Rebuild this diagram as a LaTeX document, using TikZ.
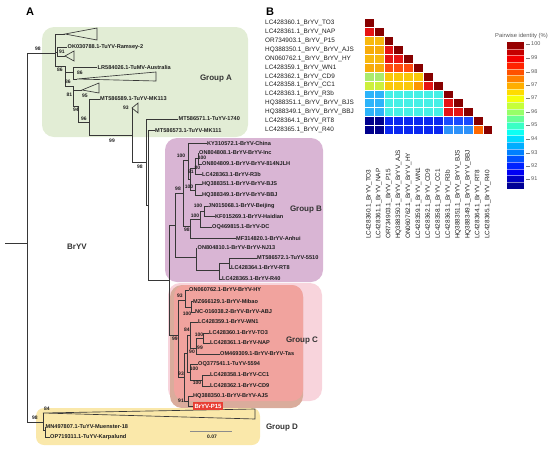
\documentclass[tikz,border=0pt]{standalone}
\usepackage{fontspec}
\setmainfont{Liberation Sans}
\definecolor{treec}{RGB}{55,55,55}
\definecolor{txtc}{RGB}{30,30,30}
\definecolor{grpc}{RGB}{50,50,50}
\definecolor{boxA}{RGB}{226,237,213}
\definecolor{boxB}{RGB}{217,181,212}
\definecolor{boxCo}{RGB}{248,212,220}
\definecolor{boxCt}{RGB}{218,172,156}
\definecolor{boxC}{RGB}{241,163,158}
\definecolor{boxD}{RGB}{250,232,170}
\definecolor{pred}{RGB}{232,62,52}
\definecolor{hdr}{RGB}{135,0,0}
\definecolor{hred}{RGB}{230,20,20}
\definecolor{hyo}{RGB}{248,185,15}
\definecolor{hyo2}{RGB}{248,172,10}
\definecolor{hro}{RGB}{255,75,15}
\definecolor{hgr}{RGB}{170,235,110}
\definecolor{hyg}{RGB}{205,240,60}
\definecolor{hyel}{RGB}{250,200,10}
\definecolor{horn}{RGB}{252,150,0}
\definecolor{hlb}{RGB}{45,180,250}
\definecolor{hcy}{RGB}{70,240,230}
\definecolor{hnv}{RGB}{0,0,140}
\definecolor{hbl}{RGB}{10,40,240}
\definecolor{hbl2}{RGB}{25,75,255}
\definecolor{hlb2}{RGB}{45,145,250}
\definecolor{hor3}{RGB}{255,105,0}
\newcommand\hmrow[2]{\foreach \hmc [count=\hmj from 0] in {#2} {\fill[fill=\hmc, draw=white, line width=0.5pt] ({364+9.9*\hmj},{18.55+8.9*#1}) rectangle ++(9.9,8.9);}}
\tikzset{
 tr/.style={draw=treec, line width=0.65pt},
 lf/.style={anchor=west, inner sep=0pt, font=\bfseries\fontsize{5.6}{6}\selectfont, text=txtc},
 bs/.style={inner sep=0pt, font=\bfseries\fontsize{5}{5}\selectfont, text=txtc},
 grp/.style={inner sep=0pt, font=\bfseries\fontsize{8}{9}\selectfont, text=grpc},
 hml/.style={inner sep=0pt, font=\fontsize{6.4}{7}\selectfont, text=txtc},
 cbl/.style={inner sep=0pt, font=\fontsize{5.5}{6}\selectfont, text=black!65},
 pan/.style={inner sep=0pt, font=\bfseries\fontsize{11}{12}\selectfont, text=black},
}
\begin{document}
\begin{tikzpicture}[x=1pt,y=-1pt]
\useasboundingbox (0,0) rectangle (550,451);
% ---------- group boxes
\fill[boxA, rounded corners=12pt] (42,27) rectangle (248,137);
\fill[boxB, rounded corners=12pt] (165,138) rectangle (323,282);
\fill[boxCo, rounded corners=12pt] (168,283) rectangle (322,401);
\fill[boxCt, rounded corners=12pt] (170,285) rectangle (303,408);
\fill[boxC, rounded corners=11pt] (174,285) rectangle (303,401);
\fill[boxD, rounded corners=8pt] (36,408) rectangle (260,445);
% ---------- root
\draw[tr] (5,243) -- (27,243);
\draw[tr] (27,53) -- (27,422);
% ---------- group A
\draw[tr] (27,53) -- (55,53);
\draw[tr] (55,34) -- (55,66);
\draw[tr] (55,34) -- (65,34);
\draw[tr] (65,34) -- (97,28) -- (97,40) -- cycle;
\draw[tr] (55,52) -- (57,52);
\draw[tr] (57,47) -- (57,56);
\draw[tr] (57,47) -- (67,47);
\draw[tr] (57,56) -- (65,56);
\draw[tr] (65,56) -- (74,51) -- (74,61) -- cycle;
\draw[tr] (55,66) -- (65,66);
\draw[tr] (65,66) -- (65,86);
\draw[tr] (65,72) -- (73,72);
\draw[tr] (73,67) -- (73,79);
\draw[tr] (73,67) -- (97,67);
\draw[tr] (73,79) -- (77,79);
\draw[tr] (77,79) -- (156,72) -- (156,81) -- cycle;
\draw[tr] (65,86) -- (73,86);
\draw[tr] (73,86) -- (73,106);
\draw[tr] (73,90) -- (82,90);
\draw[tr] (82,90) -- (99,83) -- (99,93) -- cycle;
\draw[tr] (73,106) -- (78,106);
\draw[tr] (78,106) -- (78,122);
\draw[tr] (78,122) -- (89,122);
\draw[tr] (89,99) -- (89,135);
\draw[tr] (89,99) -- (99.5,99);
\draw[tr] (89,135) -- (132,135);
\draw[tr] (132,108) -- (132,162);
\draw[tr] (132,108) -- (138,103) -- (138,113) -- cycle;
\draw[tr] (132,162) -- (146,162);
\draw[tr] (146,119) -- (146,205);
\draw[tr] (146,119) -- (178,119);
\draw[tr] (146,205) -- (148,205);
\draw[tr] (148,130.5) -- (148,280);
\draw[tr] (148,130.5) -- (154.5,130.5);
\draw[tr] (148,280) -- (169,280);
\draw[tr] (169,225) -- (169,335);
\draw[tr] (169,225) -- (175,225);
\draw[tr] (169,335) -- (178,335);
% ---------- group B
\draw[tr] (175,193) -- (175,257);
\draw[tr] (175,193) -- (183,193);
\draw[tr] (183,160) -- (183,226);
\draw[tr] (183,160) -- (188,160);
\draw[tr] (188,143) -- (188,179);
\draw[tr] (188,143) -- (206.5,143);
\draw[tr] (188,179) -- (190,179);
\draw[tr] (190,168) -- (190,190);
\draw[tr] (190,168) -- (195,168);
\draw[tr] (195,158) -- (195,174);
\draw[tr] (195,158) -- (198,158);
\draw[tr] (198,153) -- (198,164);
\draw[tr] (198,153) -- (198.5,153);
\draw[tr] (198,164) -- (201.5,164);
\draw[tr] (195,174) -- (201.5,174);
\draw[tr] (190,190) -- (195,190);
\draw[tr] (195,184) -- (195,195);
\draw[tr] (195,184) -- (201.5,184);
\draw[tr] (195,195) -- (201.5,195);
\draw[tr] (183,226) -- (190,226);
\draw[tr] (190,219) -- (190,238);
\draw[tr] (190,219) -- (200,219);
\draw[tr] (200,211) -- (200,227);
\draw[tr] (200,211) -- (204,211);
\draw[tr] (204,206) -- (204,216);
\draw[tr] (204,206) -- (207.5,206);
\draw[tr] (204,216) -- (214.5,216);
\draw[tr] (200,227) -- (211.5,227);
\draw[tr] (190,238) -- (235.5,238);
\draw[tr] (175,257) -- (196,257);
\draw[tr] (196,248) -- (196,270);
\draw[tr] (196,248) -- (197,248);
\draw[tr] (196,270) -- (219,270);
\draw[tr] (219,263) -- (219,279);
\draw[tr] (219,263) -- (229,263);
\draw[tr] (219,279) -- (221.5,279);
\draw[tr] (229,258) -- (229,268);
\draw[tr] (229,258) -- (256.5,258);
\draw[tr] (229,268) -- (230.5,268);
% ---------- group C
\draw[tr] (178,300) -- (178,377);
\draw[tr] (178,300) -- (185,300);
\draw[tr] (185,290) -- (185,307);
\draw[tr] (185,290) -- (188.5,290);
\draw[tr] (185,307) -- (191,307);
\draw[tr] (191,301) -- (191,312);
\draw[tr] (191,301) -- (192.5,301);
\draw[tr] (191,312) -- (194.5,312);
\draw[tr] (178,377) -- (184,377);
\draw[tr] (184,353) -- (184,401);
\draw[tr] (184,353) -- (187,353);
\draw[tr] (187,335) -- (187,372);
\draw[tr] (187,335) -- (190,335);
\draw[tr] (190,322) -- (190,348);
\draw[tr] (190,322) -- (197.5,322);
\draw[tr] (190,348) -- (196,348);
\draw[tr] (196,338) -- (196,354);
\draw[tr] (196,338) -- (203,338);
\draw[tr] (203,333) -- (203,343);
\draw[tr] (203,333) -- (208.5,333);
\draw[tr] (203,343) -- (209.5,343);
\draw[tr] (196,354) -- (219.5,354);
\draw[tr] (187,372) -- (190,372);
\draw[tr] (190,364) -- (190,380);
\draw[tr] (190,364) -- (197.5,364);
\draw[tr] (190,380) -- (202,380);
\draw[tr] (202,375) -- (202,386);
\draw[tr] (202,375) -- (209.5,375);
\draw[tr] (202,386) -- (209.5,386);
\draw[tr] (184,401) -- (188,401);
\draw[tr] (188,396) -- (188,406);
\draw[tr] (188,396) -- (192.5,396);
\draw[tr] (188,406) -- (192.5,406);
% ---------- group D
\draw[tr] (27,422) -- (43,422);
\draw[tr] (43,413) -- (43,430);
\draw[tr] (43,413) -- (255,409) -- (255,419) -- cycle;
\draw[tr] (43,430) -- (45,430);
\draw[tr] (45,427) -- (45,437);
\draw[tr] (45,437) -- (49.5,437);
% ---------- scale bar
\draw[draw=black!45, line width=0.5pt] (190,431) -- (232,431);
\node[bs] (scl) at (212,437) {0.07};
% ---------- leaf labels
\node[lf] (okA) at (67.5,47) {OK030788.1-TuYV-Ramsey-2};
\node[lf] (lrA) at (97.5,67) {LR584026.1-TuMV-Australia};
\node[lf] (m589) at (100,99) {MT586589.1-TuYV-MK113};
\node[lf] (m571) at (178.5,119) {MT586571.1-TuYV-1740};
\node[lf] (m573) at (155,130.5) {MT586573.1-TuYV-MK111};
\node[lf] (ky) at (207,143) {KY310572.1-BrYV-China};
\node[lf] (o808) at (199,153) {ON804808.1-BrYV-BrYV-Inc};
\node[lf] (o809) at (202,164) {ON804809.1-BrYV-BrYV-814NJLH};
\node[lf] (l363) at (202,174) {LC428363.1-BrYV-R3b};
\node[lf] (h351) at (202,184) {HQ388351.1-BrYV-BrYV-BJS};
\node[lf] (h349) at (202,195) {HQ388349.1-BrYV-BrYV-BBJ};
\node[lf] (jn) at (208,206) {JN015068.1-BrYV-Beijing};
\node[lf] (kf) at (215,216) {KF015269.1-BrYV-Haidian};
\node[lf] (oq8) at (212,227) {OQ469815.1-BrYV-DC};
\node[lf] (mf) at (236,238) {MF314820.1-BrYV-Anhui};
\node[lf] (o810) at (197.5,248) {ON804810.1-BrYV-BrYV-NJ13};
\node[lf] (m572) at (257,258) {MT586572.1-TuYV-5510};
\node[lf] (l364) at (231,268) {LC428364.1-BrYV-RT8};
\node[lf] (l365) at (222,279) {LC428365.1-BrYV-R40};
\node[lf] (hy) at (189,290) {ON060762.1-BrYV-BrYV-HY};
\node[lf] (mz) at (193,301) {MZ666129.1-BrYV-Mibao};
\node[lf] (nc) at (195,312) {NC-016038.2-BrYV-BrYV-ABJ};
\node[lf] (wn1) at (198,322) {LC428359.1-BrYV-WN1};
\node[lf] (to3) at (209,333) {LC428360.1-BrYV-TO3};
\node[lf] (nap) at (210,343) {LC428361.1-BrYV-NAP};
\node[lf] (tas) at (220,354) {OM469309.1-BrYV-BrYV-Tas};
\node[lf] (tu94) at (198,364) {OQ377541.1-TuYV-5594};
\node[lf] (cc1) at (210,375) {LC428358.1-BrYV-CC1};
\node[lf] (cd9) at (210,386) {LC428362.1-BrYV-CD9};
\node[lf] (ajs) at (193,396) {HQ388350.1-BrYV-BrYV-AJS};
\node[lf, fill=pred, text=white, inner xsep=1.8pt, inner ysep=1.8pt, font=\bfseries\fontsize{6}{6}\selectfont] (p15) at (192.5,406) {BrYV-P15};
\node[lf] (mn) at (45.5,427) {MN497807.1-TuYV-Muenster-18};
\node[lf] (op) at (50,437) {OP719311.1-TuYV-Karpalund};
% ---------- bootstrap values
\node[bs] (b1) at (38,49) {98};
\node[bs] (b2) at (62,52) {91};
\node[bs] (b3) at (60,70) {86};
\node[bs] (b4) at (80,73) {86};
\node[bs] (b5) at (68,82) {86};
\node[bs] (b6) at (69.5,95) {81};
\node[bs] (b7) at (85,95.5) {95};
\node[bs] (b8) at (76,110) {94};
\node[bs] (b9) at (84,119) {96};
\node[bs] (b10) at (126,108) {93};
\node[bs] (b11) at (112,141) {99};
\node[bs] (b12) at (140,167) {98};
\node[bs] (b13) at (178,189) {98};
\node[bs] (b14) at (181,156) {100};
\node[bs] (b15) at (187,230) {98};
\node[bs] (b16) at (191,172) {91};
\node[bs] (b17) at (189,187) {100};
\node[bs] (b18) at (202,158) {100};
\node[bs] (b19) at (197.5,168) {80};
\node[bs] (b20) at (198,206) {100};
\node[bs] (b21) at (195,215.5) {100};
\node[bs] (b22) at (180,296) {93};
\node[bs] (b23) at (187,314) {100};
\node[bs] (b24) at (175,339) {99};
\node[bs] (b25) at (187,330) {84};
\node[bs] (b26) at (199,335) {100};
\node[bs] (b27) at (200,348) {99};
\node[bs] (b28) at (192,352) {90};
\node[bs] (b29) at (194,368.5) {100};
\node[bs] (b30) at (181,374) {93};
\node[bs] (b31) at (197,383) {100};
\node[bs] (b32) at (181,401) {91};
\node[bs] (b33) at (35,418) {98};
\node[bs] (b34) at (47,409) {84};
% ---------- group labels
\node[grp] (gA) at (216,79) {Group A};
\node[grp] (gB) at (306,210) {Group B};
\node[grp] (gC) at (302,341) {Group C};
\node[grp] (gD) at (282,428) {Group D};
\node[grp] (gBr) at (77,247) {BrYV};
\node[pan] (pA) at (30,11.5) {A};
\node[pan] (pB) at (270,11.5) {B};
% ---------- heatmap
\hmrow{0}{hdr}
\hmrow{1}{hred,hdr}
\hmrow{2}{hyo,hyo,hdr}
\hmrow{3}{hyo2,hyo2,hred,hdr}
\hmrow{4}{hyo,hyo,hred,hred,hdr}
\hmrow{5}{hyo2,hyo2,hro,hro,hro,hdr}
\hmrow{6}{hgr,hgr,hyel,hyel,hyel,hyel,hdr}
\hmrow{7}{hyg,hyg,hyel,hyel,hyel,horn,hred,hdr}
\hmrow{8}{hlb,hlb,hcy,hcy,hcy,hcy,hcy,hcy,hdr}
\hmrow{9}{hlb,hlb,hcy,hcy,hcy,hcy,hcy,hcy,hred,hdr}
\hmrow{10}{hlb,hlb,hcy,hcy,hcy,hcy,hcy,hcy,hred,hred,hdr}
\hmrow{11}{hnv,hnv,hbl,hbl,hbl,hbl,hbl,hbl,hbl2,hbl2,hbl2,hdr}
\hmrow{12}{hnv,hnv,hbl,hbl,hbl,hbl,hbl,hbl,hlb2,hlb2,hlb2,hor3,hdr}
\foreach \lab [count=\i from 0] in {LC428360.1\_BrYV\_TO3, LC428361.1\_BrYV\_NAP, OR734903.1\_BrYV\_P15, HQ388350.1\_BrYV\_BrYV\_AJS, ON060762.1\_BrYV\_BrYV\_HY, LC428359.1\_BrYV\_WN1, LC428362.1\_BrYV\_CD9, LC428358.1\_BrYV\_CC1, LC428363.1\_BrYV\_R3b, HQ388351.1\_BrYV\_BrYV\_BJS, HQ388349.1\_BrYV\_BrYV\_BBJ, LC428364.1\_BrYV\_RT8, LC428365.1\_BrYV\_R40}{
  \node[hml, anchor=west] (rl\i) at (265,{23+8.9*\i}) {\lab};
  \node[hml, anchor=west, rotate=90] (cl\i) at ({368.95+9.9*\i},239) {\lab};
}
% ---------- colour bar
\node[cbl, anchor=west, font=\fontsize{5.8}{6}\selectfont] (cbt) at (495,36) {Pairwise identity (\%)};
\foreach \k/\r/\g/\b in {0/0/0/150,1/0/0/196,2/0/0/244,3/0/35/255,4/0/81/255,5/0/128/255,6/0/174/255,7/0/220/255,8/12/255/244,9/58/255/197,10/104/255/151,11/151/255/104,12/197/255/58,13/244/255/12,14/255/220/0,15/255/174/0,16/255/128/0,17/255/81/0,18/255/35/0,19/244/0/0,20/197/0/0,21/150/0/0}{
  \fill[fill={rgb,255:red,\r;green,\g;blue,\b}] (507,{189-6.682*(\k+1)}) rectangle (524,{189-6.682*\k});
}
\foreach \k in {1,...,21}{\draw[white, opacity=0.5, line width=0.3pt] (507,{189-6.682*\k}) -- (524,{189-6.682*\k});}
\foreach \yy/\tlab in {44/100,58/99,72/98,85/97,98/97,112/96,125/95,139/94,153/93,166/92,179/91}{
  \draw[black!50, line width=0.4pt] (526,\yy) -- (529.5,\yy);
  \node[cbl, anchor=west] (t\yy) at (531,\yy) {\tlab};
}
\end{tikzpicture}
\end{document}
